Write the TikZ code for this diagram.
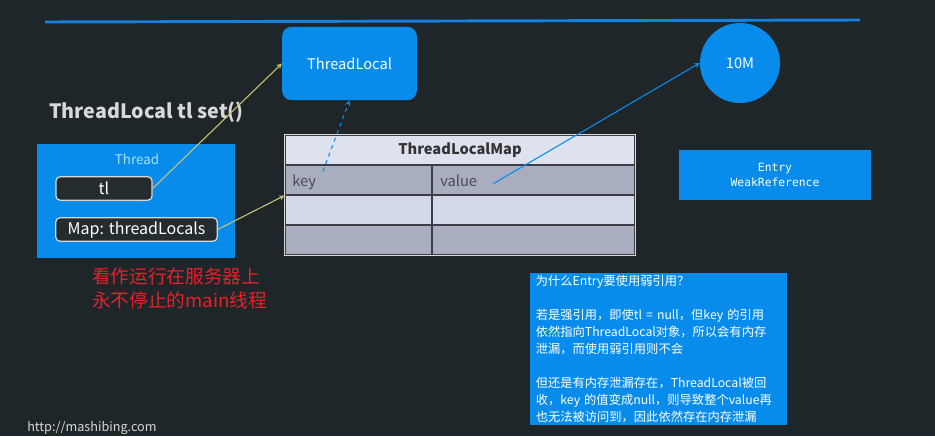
\documentclass[tikz,border=0pt]{standalone}
\usepackage{fontspec}
\setmainfont{Noto Sans CJK SC}
\newfontfamily\codefont{DejaVu Sans Mono}
\definecolor{slide-bg}{RGB}{30,38,42}
\definecolor{slide-blue}{RGB}{8,140,236}
\definecolor{rule-blue}{RGB}{22,128,220}
\definecolor{title-grey}{RGB}{214,216,218}
\definecolor{label-cyan}{RGB}{170,225,250}
\definecolor{field-dark}{RGB}{36,44,48}
\definecolor{map-head}{RGB}{222,226,238}
\definecolor{map-dark}{RGB}{168,174,192}
\definecolor{map-light}{RGB}{212,217,232}
\definecolor{map-line}{RGB}{62,62,72}
\definecolor{ref-yellow}{RGB}{204,194,112}
\definecolor{note-red}{RGB}{232,32,40}
\usetikzlibrary{arrows.meta,positioning}

\begin{document}
\begin{tikzpicture}[x=0.75pt,y=-0.75pt,
        every node/.style={inner sep=0pt},
        bluebox/.style={fill=slide-blue,text=white},
        field/.style={fill=field-dark,draw=white!85!black,line width=0.9pt,rounded corners=3pt,
            text=white,minimum height=17.5pt,font=\fontsize{12pt}{13pt}\selectfont},
        cell/.style={draw=map-line,line width=0.8pt,minimum height=22.5pt},
        yellowref/.style={-stealth,thick,ref-yellow},
        blueref/.style={-stealth,thick,slide-blue}]
    % slide
    \fill[slide-bg] (0,0) rectangle (935,436);
    \useasboundingbox (0,0) rectangle (935,436);
    \draw[rule-blue,line width=2.2pt] (45,22) -- (860,20);
    \node[anchor=west,text=title-grey,font=\fontsize{14.8pt}{16pt}\selectfont\bfseries] (title) at (49,112) {ThreadLocal tl set()};
    %
    \node[bluebox,rounded corners=7pt,minimum width=101pt,minimum height=55pt,
        font=\fontsize{11pt}{13pt}\selectfont] (tlocal) at (349.5,63.5) {ThreadLocal};
    \node[bluebox,circle,minimum size=60pt,font=\fontsize{11pt}{13pt}\selectfont] (tenm) at (740,63) {10M};
    %
    % the thread
    \node[bluebox,minimum width=148.5pt,minimum height=85.5pt] (thread) at (136,201) {};
    \node[text=label-cyan,font=\fontsize{10pt}{12pt}\selectfont] (threadlbl) at (137,159) {Thread};
    \node[field,minimum width=72pt] (tl) at (104,188.5) {tl};
    \node[field,minimum width=121pt] (map) at (136.5,229.5) {Map: threadLocals};
    %
    % the map
    \node[cell,fill=map-head,minimum width=262.5pt,font=\fontsize{11pt}{13pt}\selectfont\bfseries,
        text=black!80] (maphead) at (460,150) {ThreadLocalMap};
    \node[cell,fill=map-dark,minimum width=110.25pt] (k1) at (358.5,180) {};
    \node[cell,fill=map-dark,minimum width=152.25pt] (v1) at (533.5,180) {};
    \node[cell,fill=map-light,minimum width=110.25pt] (k2) at (358.5,210) {};
    \node[cell,fill=map-light,minimum width=152.25pt] (v2) at (533.5,210) {};
    \node[cell,fill=map-dark,minimum width=110.25pt] (k3) at (358.5,240) {};
    \node[cell,fill=map-dark,minimum width=152.25pt] (v3) at (533.5,240) {};
    \draw[white!85!black,line width=1pt] (maphead.north west) rectangle (v3.south east);
    \node[anchor=west,text=black!70,font=\fontsize{11pt}{13pt}\selectfont] (keytxt) at (292,182) {key};
    \node[anchor=west,text=black!70,font=\fontsize{11pt}{13pt}\selectfont] (valtxt) at (440,181) {value};
    %
    \node[bluebox,minimum width=144pt,minimum height=37.5pt,align=center,
        font=\codefont\fontsize{8.5pt}{11pt}\selectfont] (entry) at (775,175) {Entry\\WeakReference};
    %
    % references
    \draw[yellowref] (tl.east) -- (tlocal.west);
    \draw[yellowref] (map.east) -- (k1.south west);
    \draw[blueref,dashed] ([xshift=5pt,yshift=2pt]keytxt.north east) -- (tlocal.south);
    \draw[blueref] ([xshift=12pt,yshift=-2pt]valtxt.east) -- (tenm.west);
    %
    \node[anchor=west,align=left,text=note-red,font=\fontsize{14pt}{18pt}\selectfont] (redtxt) at (92,288)
        {看作运行在服务器上\\永不停止的main线程};
    %
    \node[bluebox,minimum width=192.75pt,minimum height=114pt,text width=184pt,align=left,
        font=\fontsize{9.2pt}{12.75pt}\selectfont] (why) at (658.5,349)
        {为什么Entry要使用弱引用？\\[12.75pt]
        若是强引用，即使tl = null，但key 的引用\\
        依然指向ThreadLocal对象，所以会有内存\\
        泄漏，而使用弱引用则不会\\[12.75pt]
        但还是有内存泄漏存在，ThreadLocal被回\\
        收，key 的值变成null，则导致整个value再\\
        也无法被访问到，因此依然存在内存泄漏};
    %
    \node[anchor=west,text=title-grey,font=\fontsize{9.5pt}{11pt}\selectfont] (url) at (27,428) {http://mashibing.com};
\end{tikzpicture}
\end{document}
